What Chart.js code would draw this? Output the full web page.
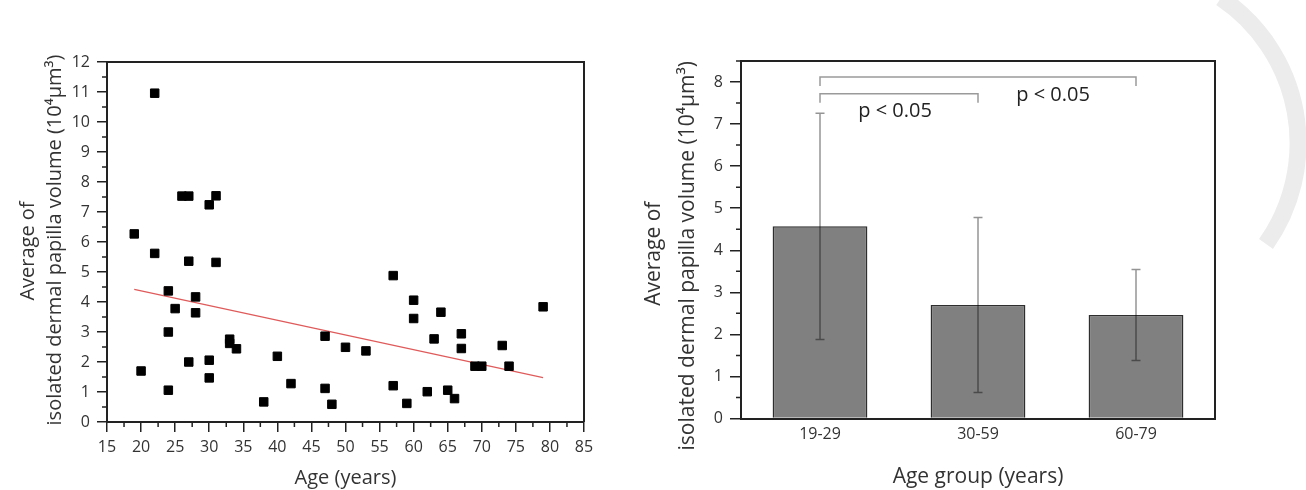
<!DOCTYPE html>
<html><head><meta charset="utf-8">
<script src="https://cdn.jsdelivr.net/npm/chart.js@4/dist/chart.umd.min.js"></script>
<style>
html,body{margin:0;padding:0;background:#fff;width:1306px;height:490px;overflow:hidden;}
#wm{position:absolute;left:0;top:0;width:1306px;height:490px;}
#w1{position:absolute;left:0;top:0;width:610px;height:490px;}
#w2{position:absolute;left:610px;top:0;width:696px;height:490px;}
</style></head><body>
<svg id="wm" width="1306" height="490" aria-hidden="true">
  <path d="M 1221 -2 A 175 175 0 0 1 1266 244" fill="none" stroke="#ececec" stroke-width="17"/>
</svg>
<div id="w1"><canvas id="c1"></canvas></div>
<div id="w2"><canvas id="c2"></canvas></div>
<script>
// ---- Left chart: individual volumes by age ----
const ages = [19,20,22,22,24,24,24,25,26,27,27,27,28,28,30,30,30,31,31,33,33,34,38,40,42,47,47,48,50,53,57,57,59,60,60,62,63,64,65,66,67,67,69,70,73,74,79];
const volumes = [6.27,1.7,10.96,5.62,4.37,3.0,1.06,3.78,7.53,7.53,5.36,2.0,4.17,3.64,7.24,2.06,1.47,7.54,5.32,2.76,2.62,2.44,0.67,2.19,1.28,2.86,1.12,0.59,2.49,2.37,4.88,1.21,0.62,4.06,3.45,1.01,2.77,3.66,1.06,0.78,2.94,2.45,1.86,1.86,2.55,1.86,3.84];
const fitAges = [19, 79];
const fitVolumes = [4.42, 1.48];
const ageTicks = [15,20,25,30,35,40,45,50,55,60,65,70,75,80,85];
const volumeTicks = [0,1,2,3,4,5,6,7,8,9,10,11,12];

// ---- Right chart: group means ----
const groups = ['19-29','30-59','60-79'];
const groupMeans = [4.57, 2.70, 2.46];
const groupSD = [2.69, 2.08, 1.08];
const groupTicks = [0,1,2,3,4,5,6,7,8];
const sigFrom = [0, 0];
const sigTo = [2, 1];
const sigLevel = [8.12, 7.72];
const sigLabels = ['p < 0.05', 'p < 0.05'];
const sigLabelPos = [1.475, 0.475];
const sigLabelLevel = [7.68, 7.31];

const yTitle = ['Average of', 'isolated dermal papilla volume (10\u2074\u00B5m\u00B3)'];

Chart.defaults.font.family = "'Open Sans', sans-serif";
Chart.defaults.color = '#333';

const framePlugin = {
  id: 'frame',
  afterDraw(chart) {
    const {ctx, chartArea: a} = chart;
    ctx.save();
    ctx.strokeStyle = '#222';
    ctx.lineWidth = 2;
    ctx.beginPath();
    ctx.moveTo(a.left, a.top);
    ctx.lineTo(a.right, a.top);
    ctx.lineTo(a.right, a.bottom);
    ctx.stroke();
    ctx.restore();
  }
};

const minorTicksPlugin = {
  id: 'minorTicks',
  afterDraw(chart, args, opts) {
    const ctx = chart.ctx;
    ctx.save();
    ctx.strokeStyle = '#222';
    ctx.lineWidth = 1.5;
    ctx.beginPath();
    for (const id of Object.keys(opts.steps || {})) {
      const s = chart.scales[id];
      const step = opts.steps[id];
      const n = Math.round((s.max - s.min) / step);
      for (let i = 0; i <= n; i++) {
        const v = s.min + i * step;
        if (Math.abs(v / (step * 2) - Math.round(v / (step * 2))) < 1e-6) continue;
        const p = s.getPixelForValue(v);
        if (s.isHorizontal()) {
          ctx.moveTo(p, s.top); ctx.lineTo(p, s.top + 5);
        } else {
          ctx.moveTo(s.right, p); ctx.lineTo(s.right - 5, p);
        }
      }
    }
    ctx.stroke();
    ctx.restore();
  }
};

// two-line rotated y-axis title
const yTitlePlugin = {
  id: 'yTitle',
  afterDraw(chart, args, o) {
    const y = chart.scales.y;
    const ctx = chart.ctx;
    const cy = (y.top + y.bottom) / 2;
    ctx.save();
    ctx.fillStyle = '#333';
    ctx.font = o.size + "px 'Open Sans', sans-serif";
    ctx.textAlign = 'center';
    ctx.textBaseline = 'middle';
    yTitle.forEach((t, i) => {
      ctx.save();
      ctx.translate(o.x[i], cy + o.dy[i]);
      ctx.rotate(-Math.PI / 2);
      ctx.fillText(t, 0, 0);
      ctx.restore();
    });
    ctx.restore();
  }
};

new Chart(document.getElementById('c1'), {
  type: 'scatter',
  data: {
    datasets: [
      {
        data: ages.map((a, i) => ({x: a, y: volumes[i]})),
        pointStyle: 'rect', pointRadius: 6, pointHoverRadius: 6,
        backgroundColor: '#000', borderColor: '#000', borderWidth: 1, order: 0
      },
      {
        data: fitAges.map((a, i) => ({x: a, y: fitVolumes[i]})),
        showLine: true, borderColor: '#e05a5a', borderWidth: 1.2,
        pointRadius: 0, fill: false, order: 1
      }
    ]
  },
  options: {
    responsive: true, maintainAspectRatio: false, animation: false,
    layout: {padding: {top: 62, right: 26, left: 0, bottom: 0}},
    plugins: {
      legend: {display: false}, tooltip: {enabled: false},
      minorTicks: {steps: {x: 2.5, y: 0.5}},
      yTitle: {size: 20, x: [28.5, 55.5], dy: [9, -2]}
    },
    scales: {
      x: {
        type: 'linear', min: 15, max: 85,
        afterBuildTicks: s => { s.ticks = ageTicks.map(v => ({value: v})); },
        afterFit: s => { s.height = 68; },
        grid: {drawOnChartArea: false, drawTicks: true, tickLength: 10, color: '#222', lineWidth: 1.5},
        border: {color: '#222', width: 2},
        ticks: {padding: 6, font: {size: 16}, color: '#333', maxRotation: 0, autoSkip: false},
        title: {display: true, text: 'Age (years)', font: {size: 20}, padding: {top: 0, bottom: 0}, color: '#333'}
      },
      y: {
        type: 'linear', min: 0, max: 12,
        afterBuildTicks: s => { s.ticks = volumeTicks.map(v => ({value: v})); },
        afterFit: s => { s.width = 107; },
        grid: {drawOnChartArea: false, drawTicks: true, tickLength: 10, color: '#222', lineWidth: 1.5},
        border: {color: '#222', width: 2},
        ticks: {padding: 7, font: {size: 16}, color: '#333', autoSkip: false}
      }
    }
  },
  plugins: [framePlugin, minorTicksPlugin, yTitlePlugin]
});

const errorBarPlugin = {
  id: 'errorBars',
  afterDatasetsDraw(chart) {
    const {ctx} = chart;
    const y = chart.scales.y;
    const meta = chart.getDatasetMeta(0);
    ctx.save();
    ctx.strokeStyle = 'rgba(0,0,0,0.42)';
    ctx.lineWidth = 1.5;
    meta.data.forEach((bar, i) => {
      const top = y.getPixelForValue(groupMeans[i] + groupSD[i]);
      const bot = y.getPixelForValue(groupMeans[i] - groupSD[i]);
      ctx.beginPath();
      ctx.moveTo(bar.x - 4.5, top); ctx.lineTo(bar.x + 4.5, top);
      ctx.moveTo(bar.x, top); ctx.lineTo(bar.x, bot);
      ctx.moveTo(bar.x - 4.5, bot); ctx.lineTo(bar.x + 4.5, bot);
      ctx.stroke();
    });
    ctx.restore();
  }
};

const bracketPlugin = {
  id: 'brackets',
  afterDatasetsDraw(chart) {
    const {ctx} = chart;
    const x = chart.scales.x, y = chart.scales.y;
    ctx.save();
    ctx.strokeStyle = '#9a9a9a';
    ctx.lineWidth = 1.5;
    for (let i = 0; i < sigFrom.length; i++) {
      const x1 = x.getPixelForValue(sigFrom[i]);
      const x2 = x.getPixelForValue(sigTo[i]);
      const yl = y.getPixelForValue(sigLevel[i]);
      const yd = yl + 9;
      ctx.beginPath();
      ctx.moveTo(x1, yd); ctx.lineTo(x1, yl); ctx.lineTo(x2, yl); ctx.lineTo(x2, yd);
      ctx.stroke();
      ctx.fillStyle = '#222';
      ctx.font = "20px 'Open Sans', sans-serif";
      ctx.textAlign = 'center';
      ctx.textBaseline = 'middle';
      ctx.fillText(sigLabels[i], x.getPixelForValue(sigLabelPos[i]), y.getPixelForValue(sigLabelLevel[i]));
    }
    ctx.restore();
  }
};

new Chart(document.getElementById('c2'), {
  type: 'bar',
  data: {
    labels: groups,
    datasets: [{
      data: groupMeans,
      backgroundColor: '#808080', borderColor: '#2e2e2e', borderWidth: 1.5,
      categoryPercentage: 1, barPercentage: 0.6
    }]
  },
  options: {
    responsive: true, maintainAspectRatio: false, animation: false,
    layout: {padding: {top: 61, right: 91, left: 0, bottom: 0}},
    plugins: {
      legend: {display: false}, tooltip: {enabled: false},
      minorTicks: {steps: {y: 0.5}},
      yTitle: {size: 21, x: [44, 78], dy: [14, 16]}
    },
    scales: {
      x: {
        afterFit: s => { s.height = 71.5; },
        grid: {display: false, drawTicks: false},
        border: {color: '#222', width: 2},
        ticks: {padding: 6, font: {size: 16}, color: '#333'},
        title: {display: true, text: 'Age group (years)', font: {size: 21}, padding: {top: 0, bottom: 0}, color: '#333'}
      },
      y: {
        min: 0, max: 8.5,
        afterBuildTicks: s => { s.ticks = groupTicks.map(v => ({value: v})); },
        afterFit: s => { s.width = 131; },
        grid: {drawOnChartArea: false, drawTicks: true, tickLength: 11, color: '#222', lineWidth: 1.5},
        border: {color: '#222', width: 2},
        ticks: {padding: 7, font: {size: 16}, color: '#333', autoSkip: false}
      }
    }
  },
  plugins: [framePlugin, minorTicksPlugin, errorBarPlugin, bracketPlugin, yTitlePlugin]
});
</script>
</body></html>
